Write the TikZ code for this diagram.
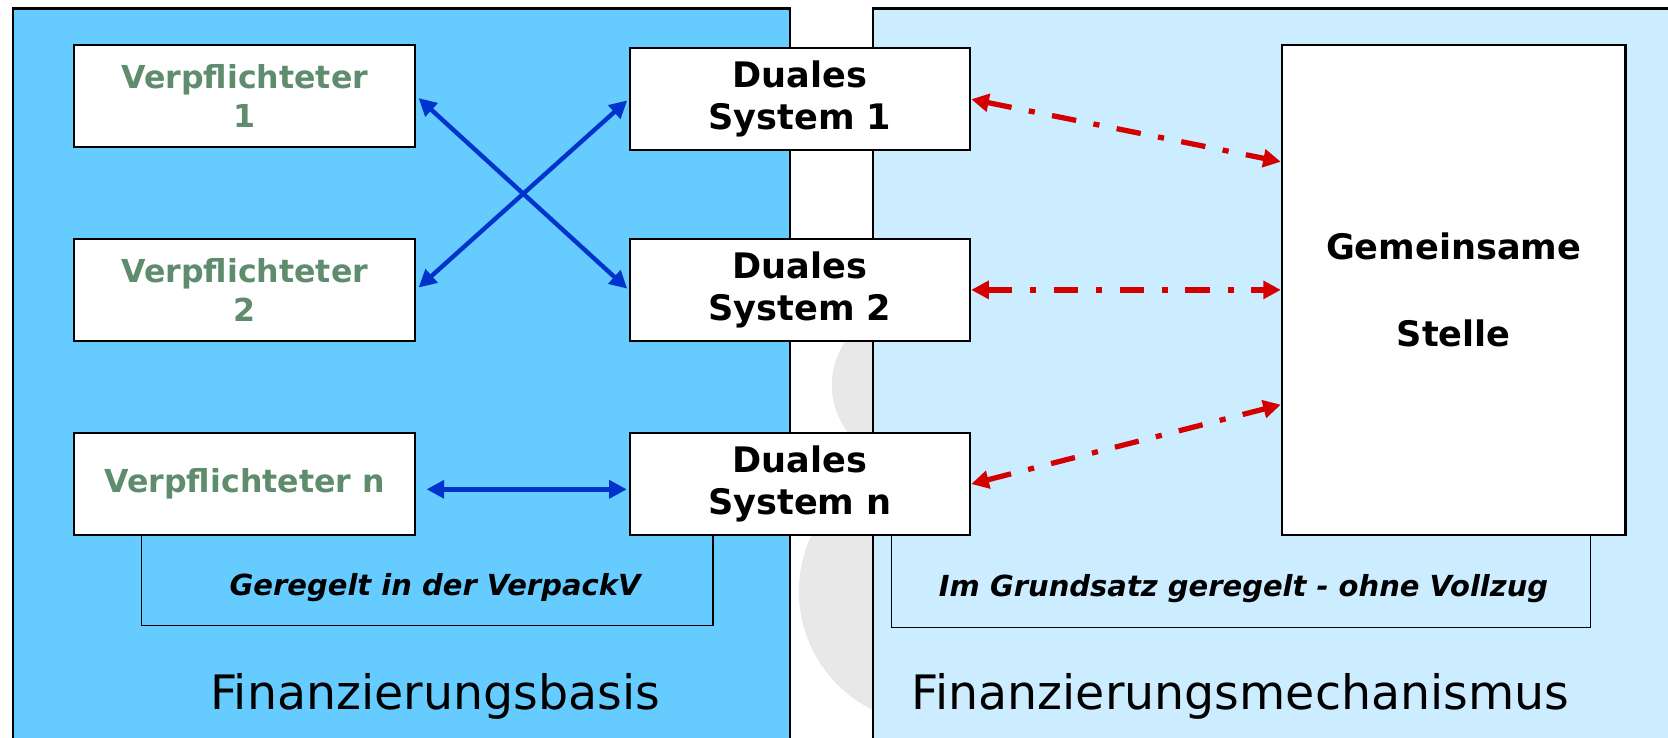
\documentclass[tikz,border=0pt]{standalone}
\usepackage{fontspec}
\setmainfont{DejaVu Sans}
\usetikzlibrary{arrows.meta,positioning,calc}
\definecolor{basisblue}{RGB}{102,204,255}
\definecolor{mechblue}{RGB}{204,236,255}
\definecolor{verpgreen}{RGB}{94,140,108}
\definecolor{arrowblue}{RGB}{0,51,204}
\definecolor{arrowred}{RGB}{212,0,0}

\begin{document}
\begin{tikzpicture}[x=0.021276cm,y=-0.021276cm,>={Triangle[length=10pt,width=10pt]},node distance=1.8cm,
                        pflichtnode/.style={rectangle, draw=black, fill=white, line width=1.2pt, minimum width=6.81cm, minimum height=2.04cm, align=center, text=verpgreen, font=\fontsize{18}{22}\selectfont\bfseries},
                        dualnode/.style={pflichtnode, text=black, font=\fontsize{20}{24}\selectfont\bfseries}]
      \tikzstyle{stellenode}=[dualnode, minimum width=6.87cm, minimum height=9.81cm]
      \tikzstyle{bluearrow}=[<->, draw=arrowblue, line width=2.5pt, shorten <=2pt, shorten >=1pt]
      \tikzstyle{redarrow}=[<->, draw=arrowred, line width=3pt, dash pattern=on 14pt off 10pt on 3.5pt off 10pt]
      \tikzstyle{regelfont}=[font=\fontsize{16.5}{20}\selectfont\bfseries\itshape]
      \tikzstyle{titlefont}=[font=\fontsize{27}{32}\selectfont]

      \useasboundingbox (0,0) rectangle (1568,693);
      \fill[gray!18] (875,556) circle (124);
      \fill[gray!18] (855,362) circle (73);
      \draw[fill=basisblue, line width=1.2pt] (12,8) rectangle (743,720);
      \draw[fill=mechblue, line width=1.2pt] (821,8) rectangle (1600,720);
      \draw[line width=0.9pt] (133,500) -- (133,588) -- (670,588) -- (670,500);
      \draw[line width=0.9pt] (838,500) -- (838,590) -- (1495,590) -- (1495,500);

      \node[pflichtnode] (V1) at (230,90)  {Verpflichteter\\1};
      \node[pflichtnode] (V2) [below=of V1] {Verpflichteter\\2};
      \node[pflichtnode] (Vn) [below=of V2] {Verpflichteter n};
      \node[dualnode]    (D1) [right=4.25cm of V1, yshift=-2pt] {Duales\\System 1};
      \node[dualnode]    (D2) [right=4.25cm of V2] {Duales\\System 2};
      \node[dualnode]    (Dn) [right=4.25cm of Vn] {Duales\\System n};
      \node[stellenode]  (G)  [right=6.19cm of D2] {Gemeinsame\\[26pt]Stelle};

      \node[regelfont] (verpackv) at (409,552)  {Geregelt in der VerpackV};
      \node[regelfont] (vollzug)  at (1169,553) {Im Grundsatz geregelt - ohne Vollzug};
      \node[titlefont] (basis)    at (409,655)  {Finanzierungsbasis};
      \node[titlefont] (mech)     at (1166,655) {Finanzierungsmechanismus};

      \path (V1.east) edge [bluearrow] (D2.west)
            (V2.east) edge [bluearrow] (D1.west)
            ([xshift=4pt,yshift=-3pt]Vn.east) edge [bluearrow] ([yshift=-3pt]Dn.west);
      \path (D1.east) edge [redarrow] ($(G.north west)!0.24!(G.south west)$)
            (D2.east) edge [redarrow] (G.west)
            (Dn.east) edge [redarrow] ($(G.north west)!0.733!(G.south west)$);
    \end{tikzpicture}
\end{document}
